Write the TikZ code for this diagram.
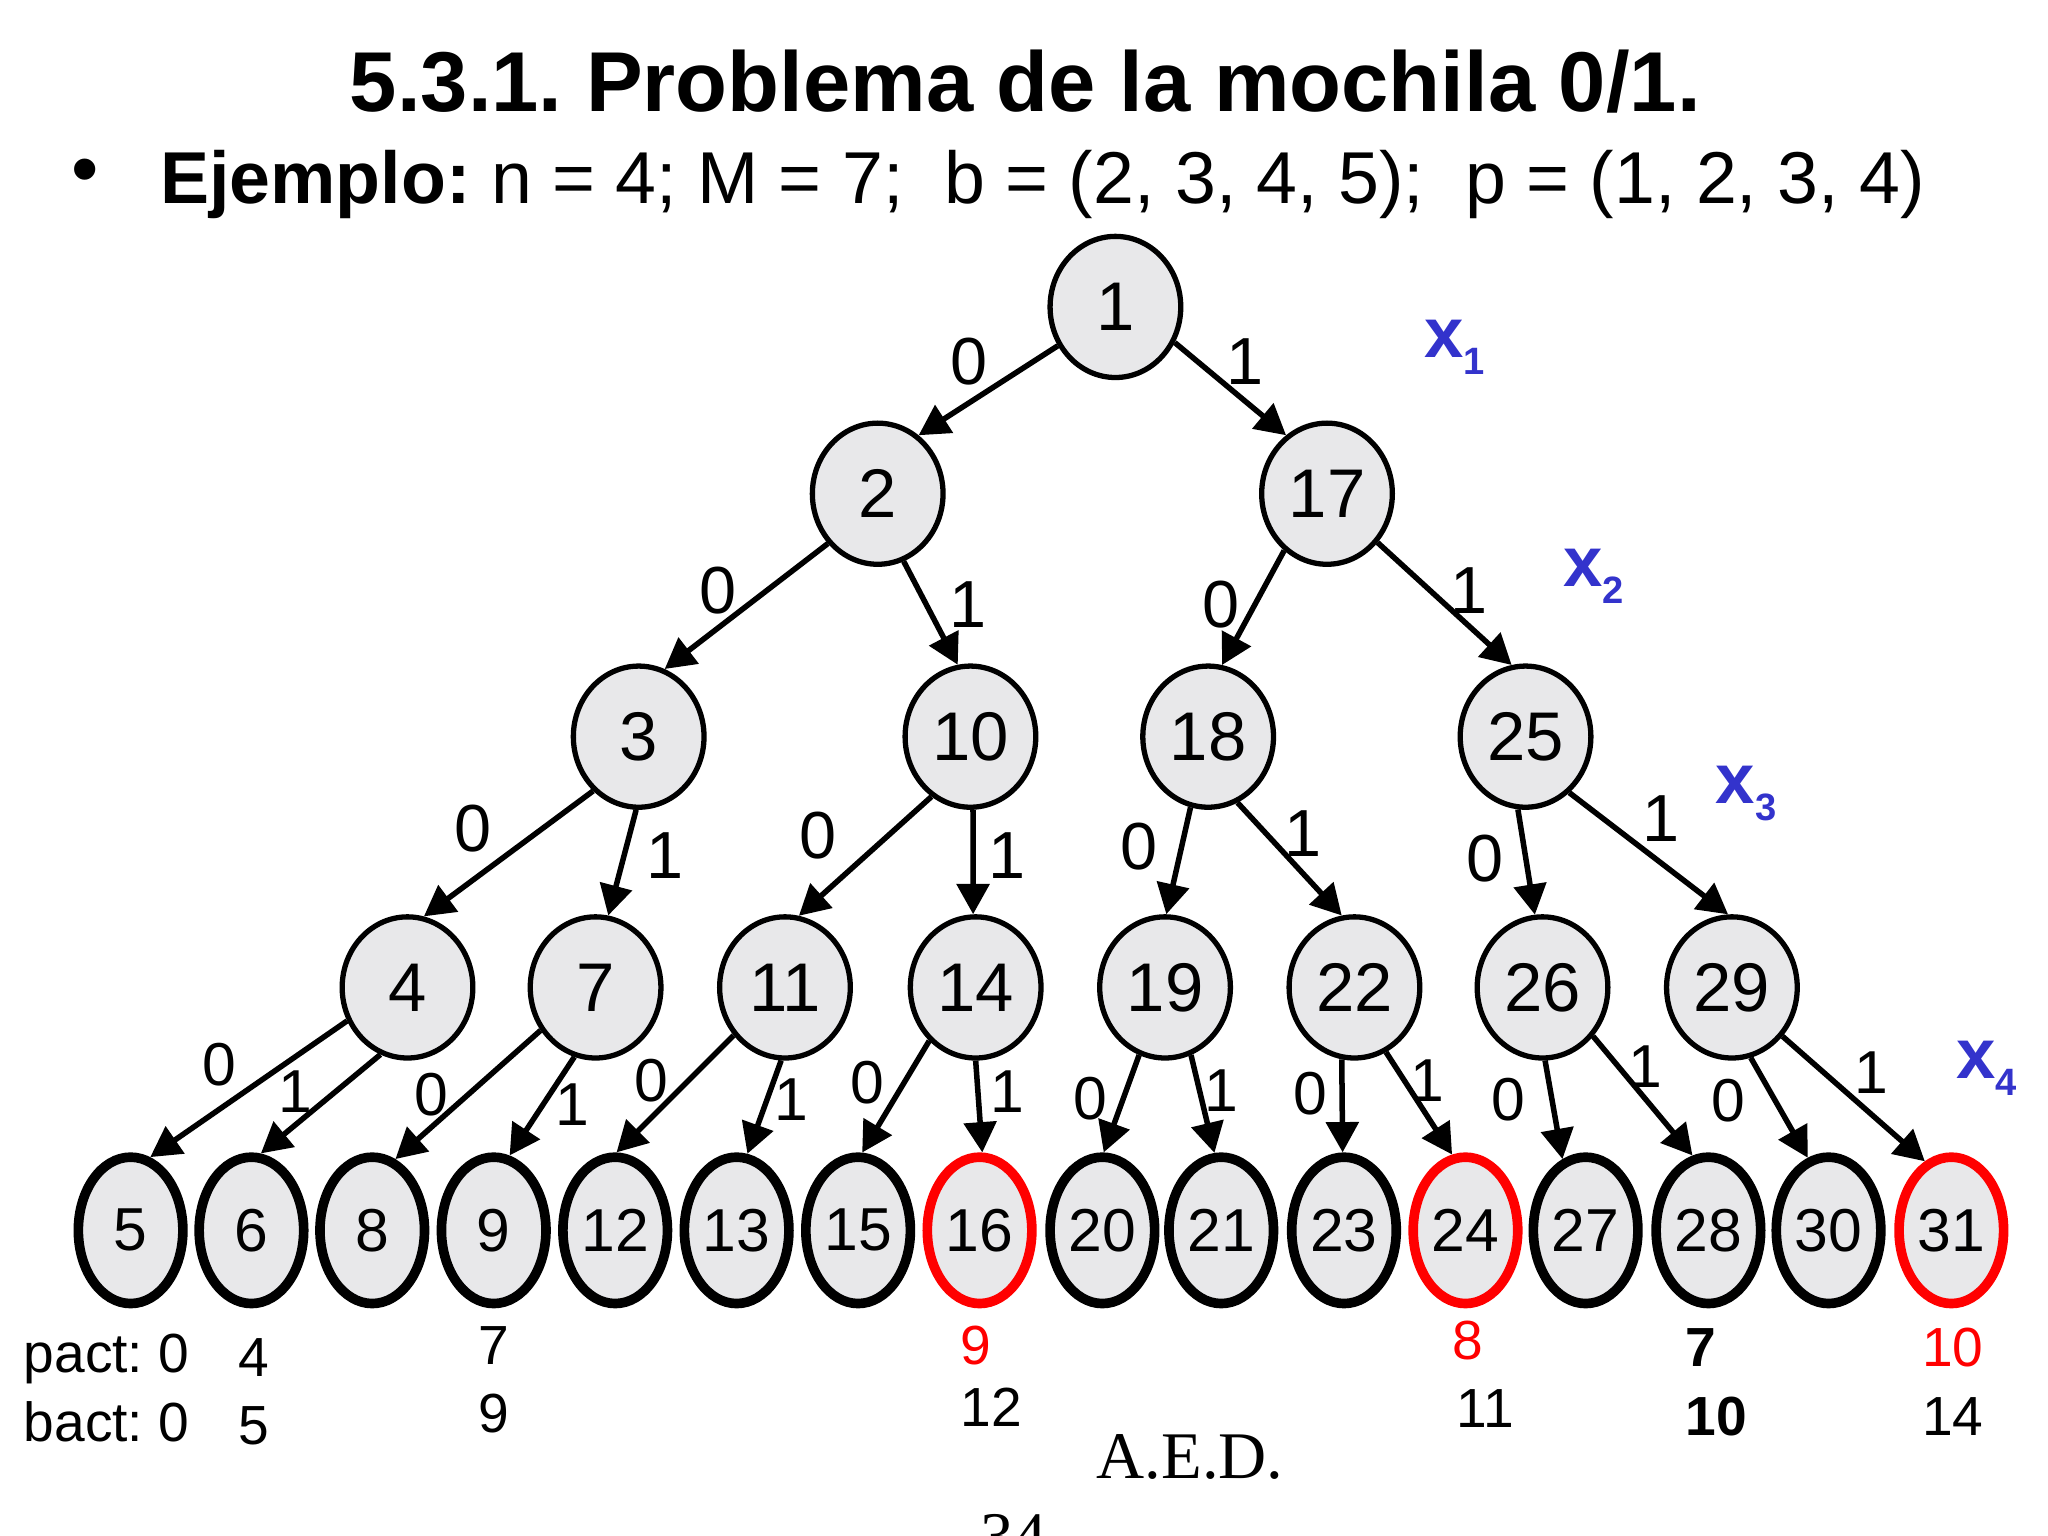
\documentclass[tikz,border=0pt]{standalone}
\usepackage{fontspec}
\setmainfont{Liberation Sans}
\newfontfamily\serifface{Liberation Serif}
\usetikzlibrary{shapes.geometric,arrows.meta}
\definecolor{nodefill}{RGB}{232,232,234}
\definecolor{xblue}{RGB}{51,51,204}
\definecolor{prunered}{RGB}{255,0,0}
\frenchspacing
\begin{document}
\begin{tikzpicture}[x=0.01cm,y=-0.01cm,
  inner/.style={ellipse,draw=black,fill=nodefill,line width=1.15pt,minimum width=1.0cm,minimum height=1.08cm,inner sep=0pt,font=\fontsize{15}{16}\selectfont},
  leaf/.style={ellipse,draw=black,fill=nodefill,line width=2.1pt,minimum width=0.8cm,minimum height=1.12cm,inner sep=0pt,font=\fontsize{13.2}{14}\selectfont},
  redleaf/.style={leaf,draw=prunered},
  edge/.style={line width=1.2pt,-{Triangle[length=6.6pt,width=7pt]}},
  lblA/.style={inner sep=0pt,font=\fontsize{14.5}{15}\selectfont},
  lblB/.style={inner sep=0pt,font=\fontsize{13.2}{14}\selectfont},
  xlbl/.style={inner sep=0pt,anchor=base west,text=xblue,font=\fontsize{15.4}{16}\selectfont\bfseries},
  info/.style={inner sep=0pt,anchor=base,font=\fontsize{12}{13}\selectfont},
]
\useasboundingbox (0,0) rectangle (1568,1176);

% titles
\node[inner sep=0pt,anchor=base,font=\fontsize{18.5}{20}\selectfont\bfseries] (title) at (785,85.5) {5.3.1. Problema de la mochila 0/1.};
\node[inner sep=0pt,font=\fontsize{17}{18}\selectfont] (bullet) at (65,136) {•};
\node[inner sep=0pt,anchor=base west,font=\fontsize{16}{17}\selectfont] (sub) at (122,155.7) {\textbf{Ejemplo:} n = 4; M = 7;\ \ b = (2, 3, 4, 5);\ \ p = (1, 2, 3, 4)};

% internal nodes
\node[inner] (n1) at (854,235) {1};
\node[inner] (n2) at (672,378) {2};
\node[inner] (n17) at (1016,378) {17};
\node[inner] (n3) at (489,564) {3};
\node[inner] (n10) at (743,564) {10};
\node[inner] (n18) at (925,564) {18};
\node[inner] (n25) at (1168,564) {25};
\node[inner] (n4) at (312,756) {4};
\node[inner] (n7) at (456,756) {7};
\node[inner] (n11) at (601,756) {11};
\node[inner] (n14) at (747,756) {14};
\node[inner] (n19) at (892,756) {19};
\node[inner] (n22) at (1037,756) {22};
\node[inner] (n26) at (1181,756) {26};
\node[inner] (n29) at (1326,756) {29};

% leaves
\node[leaf] (n5) at (100,942) {5};
\node[leaf] (n6) at (192.5,942) {6};
\node[leaf] (n8) at (285,942) {8};
\node[leaf] (n9) at (378,942) {9};
\node[leaf] (n12) at (471,942) {12};
\node[leaf] (n13) at (564,942) {13};
\node[leaf] (n15) at (657,942) {15};
\node[redleaf] (n16) at (750,942) {16};
\node[leaf] (n20) at (844,942) {20};
\node[leaf] (n21) at (935,942) {21};
\node[leaf] (n23) at (1029,942) {23};
\node[redleaf] (n24) at (1122,942) {24};
\node[leaf] (n27) at (1214,942) {27};
\node[leaf] (n28) at (1308,942) {28};
\node[leaf] (n30) at (1400,942) {30};
\node[redleaf] (n31) at (1494,942) {31};

% edges
\draw[edge] (n1.214) -- (n2.55);
\draw[edge] (n1.-31) -- (n17.125);
\draw[edge] (n2.225) -- (n3.69);
\draw[edge] (n2.-69) -- (n10.100);
\draw[edge] (n17.233) -- (n18.79);
\draw[edge] (n17.-44) -- (n25.101);
\draw[edge] (n3.230) -- (n4.77);
\draw[edge] (n3.268) -- (n7.80);
\draw[edge] (n10.237) -- (n11.79);
\draw[edge] (n10.-88) -- (n14.92);
\draw[edge] (n18.256) -- (n19.89);
\draw[edge] (n18.-66) -- (n22.100);
\draw[edge] (n25.264) -- (n26.96);
\draw[edge] (n25.-52) -- (n29.93);
\draw[edge] (n4.209) -- (n5.75);
\draw[edge] (n4.248) -- (n6.83);
\draw[edge] (n7.218) -- (n8.72);
\draw[edge] (n7.253) -- (n9.78);
\draw[edge] (n11.223) -- (n12.89);
\draw[edge] (n11.267) -- (n13.82);
\draw[edge] (n14.229) -- (n15.87);
\draw[edge] (n14.-90) -- (n16.88);
\draw[edge] (n19.249) -- (n20.89);
\draw[edge] (n19.-69) -- (n21.95);
\draw[edge] (n22.260) -- (n23.91);
\draw[edge] (n22.-64) -- (n24.100);
\draw[edge] (n26.-88) -- (n27.108);
\draw[edge] (n26.-44) -- (n28.102);
\draw[edge] (n29.-75) -- (n30.106);
\draw[edge] (n29.-44) -- (n31.111);

% edge labels upper
\node[lblA] (l1a) at (742,277) {0};
\node[lblA] (l1b) at (953,277) {1};
\node[lblA] (l2a) at (550,452) {0};
\node[lblA] (l2b) at (741,463) {1};
\node[lblA] (l17a) at (935,463) {0};
\node[lblA] (l17b) at (1125,452) {1};
\node[lblA] (l3a) at (362,634) {0};
\node[lblA] (l3b) at (509,655) {1};
\node[lblA] (l10a) at (626,640) {0};
\node[lblA] (l10b) at (771,655) {1};
\node[lblA] (l18a) at (872,648) {0};
\node[lblA] (l18b) at (998,638) {1};
\node[lblA] (l25a) at (1137,657) {0};
\node[lblA] (l25b) at (1272,627) {1};
% edge labels lower
\node[lblB] (l4a) at (168,815) {0};
\node[lblB] (l4b) at (226,836) {1};
\node[lblB] (l7a) at (330,838) {0};
\node[lblB] (l7b) at (438,846) {1};
\node[lblB] (l11a) at (499,827) {0};
\node[lblB] (l11b) at (606,842) {1};
\node[lblB] (l14a) at (664,829) {0};
\node[lblB] (l14b) at (771,836) {1};
\node[lblB] (l19a) at (835,841) {0};
\node[lblB] (l19b) at (935,835) {1};
\node[lblB] (l22a) at (1003,837) {0};
\node[lblB] (l22b) at (1093,827) {1};
\node[lblB] (l26a) at (1155,842) {0};
\node[lblB] (l26b) at (1260,817) {1};
\node[lblB] (l29a) at (1323,843) {0};
\node[lblB] (l29b) at (1433,821) {1};

% level labels
\node[xlbl] (x1) at (1090,274) {x\raisebox{-3.7pt}{\fontsize{8.3}{9}\selectfont 1}};
\node[xlbl] (x2) at (1196,449) {x\raisebox{-3.7pt}{\fontsize{8.3}{9}\selectfont 2}};
\node[xlbl] (x3) at (1313,615) {x\raisebox{-3.7pt}{\fontsize{8.3}{9}\selectfont 3}};
\node[xlbl] (x4) at (1497,826) {x\raisebox{-3.7pt}{\fontsize{8.3}{9}\selectfont 4}};

% pact / bact
\node[info,anchor=base west] (pact) at (17.5,1051) {pact: 0};
\node[info,anchor=base west] (bact) at (17.5,1104) {bact: 0};
\node[info] (i1) at (194,1054) {4};
\node[info] (i2) at (194,1106) {5};
\node[info] (i3) at (378,1045) {7};
\node[info] (i4) at (378,1097) {9};
\node[info,text=prunered] (i5) at (747,1045) {9};
\node[info] (i6) at (759,1092) {12};
\node[info,text=prunered] (i7) at (1124,1041) {8};
\node[info] (i8) at (1137,1093) {11};
\node[info,font=\fontsize{12}{13}\selectfont\bfseries] (i9) at (1302,1046) {7};
\node[info,font=\fontsize{12}{13}\selectfont\bfseries] (i10) at (1314,1099) {10};
\node[info,text=prunered] (i11) at (1495,1046) {10};
\node[info] (i12) at (1495,1099) {14};

% footer
\node[inner sep=0pt,anchor=base west,font=\serifface\fontsize{14.5}{15}\selectfont] (aed) at (839,1132) {A.E.D.};
\node[inner sep=0pt,anchor=base west,font=\serifface\fontsize{14.5}{15}\selectfont] (page) at (750,1193) {34};
\end{tikzpicture}
\end{document}
